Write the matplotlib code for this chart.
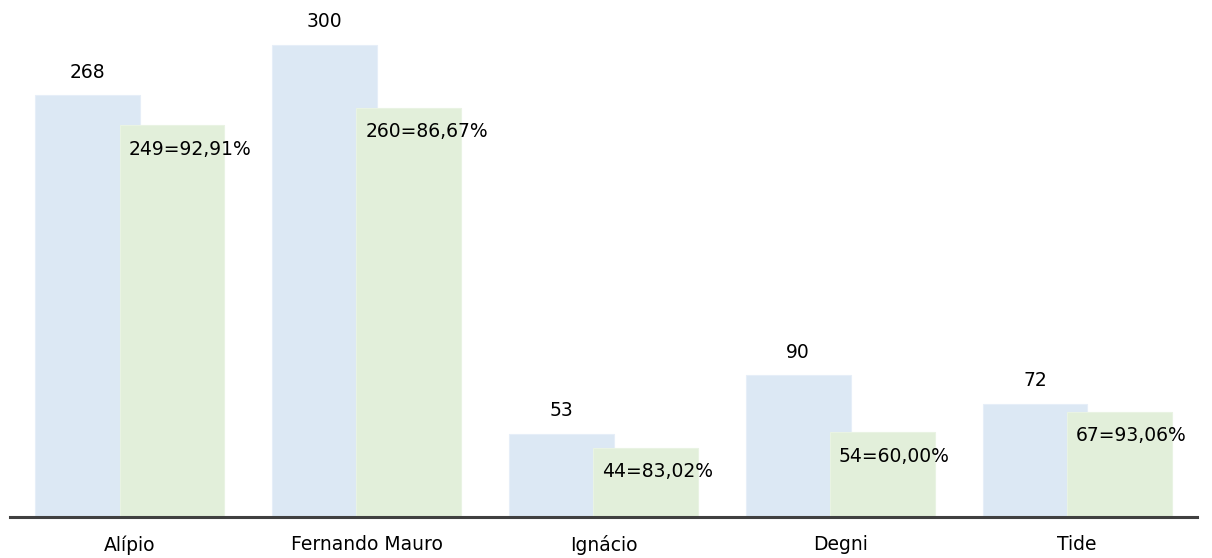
import matplotlib
matplotlib.use("Agg")
import matplotlib.pyplot as plt
import numpy as np

categories = ["Alípio", "Fernando Mauro", "Ignácio", "Degni", "Tide"]
totals = [268, 300, 53, 90, 72]
achieved = [249, 260, 44, 54, 67]
achieved_labels = ["249=92,91%", "260=86,67%", "44=83,02%", "54=60,00%", "67=93,06%"]

plt.rcParams['font.family'] = ['DejaVu Sans']

fig = plt.figure(figsize=(12.12, 5.58), dpi=100)
ax = fig.add_axes([10/1212, 41/558, 1187/1212, 517/558])

x = np.arange(len(categories))
w = 0.443
off = 0.178
blue = "#dce8f4"
green = "#e2efda"

ax.bar(x - off, totals, width=w, color=blue, edgecolor="#e6eef8", linewidth=0.8, zorder=2)
ax.bar(x + off, achieved, width=w, color=green, edgecolor="#e9f3e3", linewidth=0.8, zorder=3)

for xi, v in zip(x, totals):
    ax.annotate(str(v), (xi - off, v), xytext=(0, 23), textcoords="offset pixels",
                ha="center", va="center", fontsize=13.5, color="#000000", zorder=5)

for xi, v, lab in zip(x, achieved, achieved_labels):
    ax.annotate(lab, (xi + off - w/2, v), xytext=(9, -24), textcoords="offset pixels",
                ha="left", va="center", fontsize=13.5, color="#000000", zorder=5)

ax.set_xlim(-0.506, 4.506)
ax.set_ylim(0, 328.6)
ax.set_xticks(x)
ax.set_xticklabels(categories, fontsize=13.5)
ax.tick_params(axis="x", length=0, pad=13)
ax.set_yticks([])
for s in ["top", "left", "right"]:
    ax.spines[s].set_visible(False)
ax.spines["bottom"].set_color("#404040")
ax.spines["bottom"].set_linewidth(2.2)
ax.spines["bottom"].set_zorder(6)
ax.patch.set_alpha(0)

fig.savefig("out.png", dpi=100)
